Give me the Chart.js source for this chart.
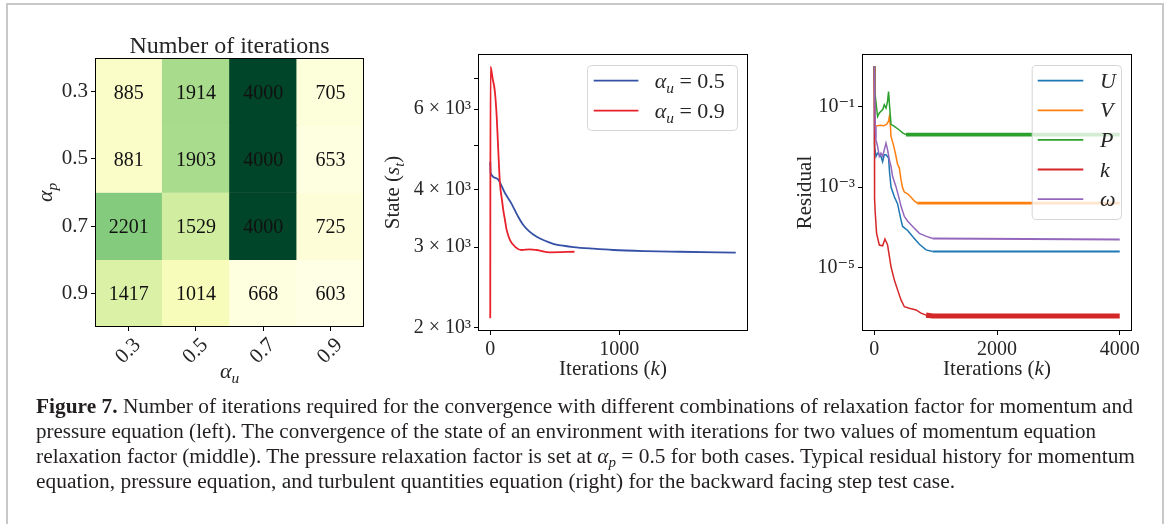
<!DOCTYPE html>
<html><head><meta charset="utf-8">
<script src="https://cdn.jsdelivr.net/npm/chart.js@4.4.1/dist/chart.umd.min.js"></script>
<style>
html,body{margin:0;padding:0;background:#fff;width:1167px;height:524px;overflow:hidden;position:relative;}
#frame{position:absolute;left:6px;top:3px;width:1158px;height:600px;border:2px solid #c8c8c8;box-sizing:border-box;}
canvas{position:absolute;top:0;}
#c1{left:0}#c2{left:380px}#c3{left:780px}
.cap{position:absolute;left:36px;font-family:"Liberation Serif",serif;font-size:20px;line-height:25px;color:#231f20;white-space:nowrap;transform-origin:0 0;}
.cap sub{font-size:70%;vertical-align:-0.25em;line-height:0}
</style></head><body>
<div id="frame"></div>
<canvas id="c1" width="380" height="395"></canvas>
<canvas id="c2" width="400" height="395"></canvas>
<canvas id="c3" width="380" height="395"></canvas>
<div class="cap" data-w="1097" style="top:394px"><b>Figure 7.</b> Number of iterations required for the convergence with different combinations of relaxation factor for momentum and</div>
<div class="cap" data-w="1060" style="top:419px">pressure equation (left). The convergence of the state of an environment with iterations for two values of momentum equation</div>
<div class="cap" data-w="1099" style="top:444px">relaxation factor (middle). The pressure relaxation factor is set at <i>α</i><sub><i>p</i></sub> = 0.5 for both cases. Typical residual history for momentum</div>
<div class="cap" data-w="919" style="top:469px">equation, pressure equation, and turbulent quantities equation (right) for the backward facing step test case.</div>
<script>
// ---------------- DATA ----------------
// Left: number of iterations (rows = alpha_p, columns = alpha_u)
const alphaU = ['0.3', '0.5', '0.7', '0.9'];
const alphaP = ['0.3', '0.5', '0.7', '0.9'];
const itersP03 = [885, 1914, 4000, 705];
const itersP05 = [881, 1903, 4000, 653];
const itersP07 = [2201, 1529, 4000, 725];
const itersP09 = [1417, 1014, 668, 603];

// Middle: state vs iterations
const stateLabels = ['α_u = 0.5', 'α_u = 0.9'];
const stateIterA = [0, 3, 50, 115, 160, 215, 250, 300, 360, 420, 488, 550, 643, 800, 953, 1200, 1470, 1903];
const stateValA  = [4609, 4350, 4239, 3932, 3750, 3500, 3370, 3250, 3160, 3100, 3050, 3025, 3000, 2975, 2956, 2940, 2930, 2916];
const stateIterB = [0, 2, 18, 36, 50, 62, 75, 91, 101, 114, 127, 153, 195, 243, 308, 360, 463, 653];
const stateValB  = [2096, 7430, 7008, 6550, 5775, 4887, 4134, 3800, 3614, 3437, 3270, 3108, 3000, 2956, 2966, 2956, 2922, 2930];
const stateYTicks = [2000, 3000, 4000, 5000, 6000, 7000];
const stateYTickLabels = ['2 × 10³', '3 × 10³', '4 × 10³', '', '6 × 10³', ''];
const stateXTicks = [0, 1000];
const stateXTickLabels = ['0', '1000'];

// Right: residual history
const resLabels = ['U', 'V', 'P', 'k', 'ω'];
const resIterU = [0, 5, 28, 54, 82, 109, 136, 163, 191, 233, 250, 273, 327, 380, 436, 462, 544, 625, 735, 844, 952, 4000];
const resU = [1, 0.0102, 0.00575, 0.00692, 0.00631, 0.00575, 0.00427, 0.00631, 0.00631, 0.00525, 0.00224, 0.00100, 0.000575, 0.00038, 0.000151, 0.000105, 0.0000832, 0.0000589, 0.000038, 0.0000275, 0.0000251, 0.0000251];
const resIterV = [0, 8, 50, 100, 150, 200, 233, 245, 262, 273, 300, 327, 354, 380, 408, 436, 462, 490, 544, 599, 653, 700, 4000];
const resV = [1, 0.032, 0.033, 0.034, 0.033, 0.036, 0.043, 0.055, 0.035, 0.018, 0.013, 0.009, 0.0058, 0.0036, 0.0030, 0.0015, 0.00095, 0.00075, 0.00068, 0.00056, 0.00045, 0.00040, 0.00040];
const resIterP = [0, 8, 54, 80, 109, 140, 163, 191, 215, 233, 250, 273, 327, 408, 462, 517, 4000];
const resP = [1, 0.236, 0.056, 0.068, 0.076, 0.085, 0.11, 0.091, 0.13, 0.234, 0.1, 0.036, 0.032, 0.026, 0.022, 0.020, 0.020];
const resIterK = [0, 5, 16, 38, 82, 136, 174, 217, 273, 327, 380, 436, 490, 571, 681, 762, 844, 952, 4000];
const resK = [1, 0.0005, 0.000224, 0.0000708, 0.0000363, 0.0000347, 0.0000513, 0.0000363, 0.0000105, 0.0000049, 0.0000028, 0.00000158, 0.00000107, 0.00000098, 0.00000089, 0.00000074, 0.00000066, 0.00000063, 0.00000063];
const resIterW = [0, 16, 28, 54, 82, 109, 136, 163, 191, 217, 245, 273, 299, 354, 408, 436, 490, 545, 625, 735, 840, 952, 4000];
const resW = [1, 0.0316, 0.0148, 0.0102, 0.00575, 0.00692, 0.00575, 0.00832, 0.0123, 0.00832, 0.00479, 0.00324, 0.00182, 0.00102, 0.0005, 0.000331, 0.000186, 0.000141, 0.000105, 0.0000708, 0.0000603, 0.0000525, 0.0000501];
const resYTicks = [1e-1, 1e-3, 1e-5];
const resYTickLabels = ['10⁻¹', '10⁻³', '10⁻⁵'];
const resXTicks = [0, 2000, 4000];
const resXTickLabels = ['0', '2000', '4000'];

// ---------------- STYLE / HELPERS ----------------
const SERIF = '"Liberation Serif", "DejaVu Serif", serif';
const TXT = '#262626';
const YLGN = ['#ffffe5','#f7fcb9','#d9f0a3','#addd8e','#78c679','#41ab5d','#238443','#006837','#004529'];
function hexRgb(h){ return [1,3,5].map(i => parseInt(h.substr(i,2),16)); }
function ylgn(t){
  t = Math.max(0, Math.min(1, t));
  const s = t * (YLGN.length - 1);
  const i = Math.min(Math.floor(s), YLGN.length - 2);
  const f = s - i; const a = hexRgb(YLGN[i]), b = hexRgb(YLGN[i+1]);
  return 'rgb(' + a.map((v,k) => Math.round(v + (b[k]-v)*f)).join(',') + ')';
}
function font(size, it){ return (it ? 'italic ' : '') + size + 'px ' + SERIF; }
function mathParts(label){
  const m = /^(\S)_(\S)(.*)$/.exec(label);
  if (m) return [{t:m[1], it:true}, {t:m[2], it:true, sub:true}, {t:m[3]}];
  if (label.length === 1) return [{t:label, it:true}];
  return [{t:label}];
}
function drawRich(ctx, parts, x, y, size, align, rot){
  ctx.save(); ctx.translate(x, y); if (rot) ctx.rotate(rot);
  let w = 0;
  for (const p of parts){ ctx.font = font((p.sub||p.sup) ? size*0.7 : size, p.it); w += ctx.measureText(p.t).width; }
  let cx = align === 'center' ? -w/2 : (align === 'right' ? -w : 0);
  ctx.textAlign = 'left'; ctx.textBaseline = 'alphabetic'; ctx.fillStyle = TXT;
  for (const p of parts){
    const s = (p.sub||p.sup) ? size*0.7 : size;
    ctx.font = font(s, p.it);
    const dy = p.sub ? size*0.22 : (p.sup ? -size*0.4 : 0);
    ctx.fillText(p.t, cx, dy);
    cx += ctx.measureText(p.t).width;
  }
  ctx.restore();
}
function zip(xs, ys){ return xs.map((x,i) => ({x:x, y:ys[i]})); }

const framePlugin = {
  id: 'frame',
  afterDatasetsDraw(chart){
    const a = chart.chartArea, ctx = chart.ctx;
    ctx.save(); ctx.strokeStyle = '#000'; ctx.lineWidth = 1;
    ctx.strokeRect(Math.round(a.left)+0.5, Math.round(a.top)+0.5, Math.round(a.right-a.left)-1, Math.round(a.bottom-a.top)-1);
    ctx.restore();
  }
};
const titlesPlugin = {
  id: 'axTitles',
  afterDraw(chart, args, o){
    const a = chart.chartArea, ctx = chart.ctx;
    const cx = (a.left + a.right)/2, cy = (a.top + a.bottom)/2;
    if (o.top) drawRich(chart.ctx, o.top.parts, cx, a.top - o.top.gap, o.top.size, 'center', 0);
    if (o.x) drawRich(ctx, o.x.parts, cx, a.bottom + o.x.gap, o.x.size, 'center', 0);
    if (o.y) drawRich(ctx, o.y.parts, a.left - o.y.gap, cy, o.y.size, 'center', -Math.PI/2);
  }
};
const legendPlugin = {
  id: 'mplLegend',
  afterDraw(chart, args, o){
    if (!o || !o.w) return;
    const a = chart.chartArea, ctx = chart.ctx;
    const x = a.right - o.inset - o.w, y = a.top + o.inset;
    ctx.save();
    ctx.beginPath(); ctx.roundRect(x+0.5, y+0.5, o.w, o.h, 4);
    ctx.fillStyle = 'rgba(255,255,255,0.8)'; ctx.fill();
    ctx.strokeStyle = '#d6d6d6'; ctx.lineWidth = 1; ctx.stroke();
    chart.data.datasets.forEach((ds, i) => {
      const yy = y + o.first + i*o.gap;
      ctx.strokeStyle = ds.borderColor; ctx.lineWidth = o.lw; ctx.lineCap = 'butt';
      ctx.beginPath(); ctx.moveTo(x + o.lx0, yy); ctx.lineTo(x + o.lx1, yy); ctx.stroke();
      drawRich(ctx, mathParts(ds.label), x + o.tx, yy + o.dy, o.size, 'left', 0);
    });
    ctx.restore();
  }
};
const annotPlugin = {
  id: 'annot',
  afterDatasetsDraw(chart){
    const ctx = chart.ctx;
    ctx.save(); ctx.font = font(20, false); ctx.fillStyle = '#111'; ctx.textAlign = 'center'; ctx.textBaseline = 'alphabetic';
    chart.data.datasets.forEach((ds, di) => {
      chart.getDatasetMeta(di).data.forEach((el, i) => {
        ctx.fillText(String(ds.iters[i]), el.x, (el.y + el.base)/2 + 7);
      });
    });
    ctx.restore();
  }
};
function tickAxis(extra){
  return Object.assign({
    grid: {display: true, drawOnChartArea: false, drawTicks: true, tickLength: 4, color: '#000', offset: false},
    border: {display: false},
  }, extra);
}

// ---------------- LEFT: heatmap ----------------
const rows = [itersP03, itersP05, itersP07, itersP09];
const allIters = rows.flat();
const vmin = Math.min(...allIters), vmax = Math.max(...allIters);
new Chart(document.getElementById('c1'), {
  type: 'bar',
  data: {
    labels: alphaU,
    datasets: rows.map((row, r) => ({
      label: 'α_p = ' + alphaP[r],
      data: row.map(() => [r, r + 1]),
      iters: row,
      backgroundColor: row.map(v => ylgn((v - vmin) / (vmax - vmin))),
      borderWidth: 0, grouped: false, barPercentage: 1, categoryPercentage: 1
    }))
  },
  options: {
    responsive: false, animation: false, events: [],
    layout: {padding: {top: 58, right: 16, left: 0, bottom: 0}},
    plugins: {legend: {display: false}, tooltip: {enabled: false},
      axTitles: {
        top: {parts: [{t: 'Number of iterations'}], gap: 5, size: 24},
        x: {parts: mathParts('α_u'), gap: 51, size: 22},
        y: {parts: mathParts('α_p'), gap: 43, size: 22}
      }},
    scales: {
      x: tickAxis({type: 'category', offset: true,
        ticks: {font: {family: SERIF, size: 21}, color: TXT, minRotation: 45, maxRotation: 45, autoSkip: false, labelOffset: 9, padding: 2},
        afterFit: s => { s.height = 68; }}),
      y: tickAxis({type: 'linear', min: 0, max: 4, reverse: true,
        afterBuildTicks: s => { s.ticks = alphaP.map((_, i) => ({value: i + 0.5})); },
        ticks: {font: {family: SERIF, size: 21}, color: TXT, autoSkip: false, padding: 3, callback: (v, i) => alphaP[i]},
        afterFit: s => { s.width = 95; }})
    }
  },
  plugins: [annotPlugin, framePlugin, titlesPlugin]
});

// ---------------- MIDDLE: state ----------------
new Chart(document.getElementById('c2'), {
  type: 'line',
  data: {datasets: [
    {label: stateLabels[0], data: zip(stateIterA, stateValA), borderColor: '#3551a6', order: 1},
    {label: stateLabels[1], data: zip(stateIterB, stateValB), borderColor: '#e8212b', order: 0}
  ].map(d => Object.assign({borderWidth: 1.8, pointRadius: 0, fill: false, cubicInterpolationMode: 'monotone'}, d))},
  options: {
    responsive: false, animation: false, events: [],
    layout: {padding: {top: 54, right: 32, left: 0, bottom: 0}},
    plugins: {legend: {display: false}, tooltip: {enabled: false},
      mplLegend: {w: 150, h: 65, inset: 11, first: 15.7, gap: 30, lx0: 6.7, lx1: 51.4, tx: 67.7, dy: 7, lw: 1.8, size: 22},
      axTitles: {
        x: {parts: [{t: 'Iterations ('}, {t: 'k', it: true}, {t: ')'}], gap: 44, size: 21},
        y: {parts: [{t: 'State ('}, {t: 's', it: true}, {t: 't', it: true, sub: true}, {t: ')'}], gap: 79, size: 21}
      }},
    scales: {
      x: tickAxis({type: 'linear', min: -95, max: 1998,
        afterBuildTicks: s => { s.ticks = stateXTicks.map(v => ({value: v})); },
        ticks: {font: {family: SERIF, size: 20}, color: TXT, maxRotation: 0, padding: 3,
          callback: (v, i) => stateXTickLabels[i]},
        afterFit: s => { s.height = 64; }}),
      y: tickAxis({type: 'logarithmic', min: 1967, max: 7920,
        afterBuildTicks: s => { s.ticks = stateYTicks.map(v => ({value: v})); },
        ticks: {font: {family: SERIF, size: 20}, color: TXT, autoSkip: false, padding: 3,
          callback: (v, i) => stateYTickLabels[i]},
        afterFit: s => { s.width = 98; }})
    }
  },
  plugins: [framePlugin, legendPlugin, titlesPlugin]
});

// ---------------- RIGHT: residuals ----------------
const resColors = ['#1f77b4', '#ff7f0e', '#2ca02c', '#d62728', '#9467bd'];
const resTail = [{from: 952, w: 2.2}, {from: 700, w: 2.8}, {from: 517, w: 3.6}, {from: 844, w: 5.2}, {from: 952, w: 2.0}];
const resIters = [resIterU, resIterV, resIterP, resIterK, resIterW];
const resVals = [resU, resV, resP, resK, resW];
new Chart(document.getElementById('c3'), {
  type: 'line',
  data: {datasets: resLabels.map((lab, i) => ({
    label: lab, data: zip(resIters[i], resVals[i]), borderColor: resColors[i],
    borderWidth: 1.5, pointRadius: 0, fill: false, tension: 0, order: 4 - i,
    segment: {borderWidth: ctx => ctx.p0.parsed.x >= resTail[i].from ? resTail[i].w : 1.5}
  }))},
  options: {
    responsive: false, animation: false, events: [],
    layout: {padding: {top: 54, right: 28, left: 0, bottom: 0}},
    plugins: {legend: {display: false}, tooltip: {enabled: false},
      mplLegend: {w: 89.3, h: 154, inset: 11, first: 15.7, gap: 29.6, lx0: 6, lx1: 51.6, tx: 68.3, dy: 7, lw: 1.8, size: 22},
      axTitles: {
        x: {parts: [{t: 'Iterations ('}, {t: 'k', it: true}, {t: ')'}], gap: 44, size: 21},
        y: {parts: [{t: 'Residual'}], gap: 51, size: 21}
      }},
    scales: {
      x: tickAxis({type: 'linear', min: -200, max: 4200,
        afterBuildTicks: s => { s.ticks = resXTicks.map(v => ({value: v})); },
        ticks: {font: {family: SERIF, size: 20}, color: TXT, maxRotation: 0, padding: 3,
          callback: (v, i) => resXTickLabels[i]},
        afterFit: s => { s.height = 64; }}),
      y: tickAxis({type: 'logarithmic', min: 2.67e-7, max: 2.0,
        afterBuildTicks: s => { s.ticks = resYTicks.map(v => ({value: v})); },
        ticks: {font: {family: SERIF, size: 20}, color: TXT, autoSkip: false, padding: 3,
          callback: (v, i) => resYTickLabels[i]},
        afterFit: s => { s.width = 82; }})
    }
  },
  plugins: [framePlugin, legendPlugin, titlesPlugin]
});

// caption line widths
document.querySelectorAll('.cap').forEach(el => {
  const w = el.getBoundingClientRect().width;
  el.style.transform = 'scaleX(' + (Number(el.dataset.w) / w) + ')';
});
</script>
</body></html>
